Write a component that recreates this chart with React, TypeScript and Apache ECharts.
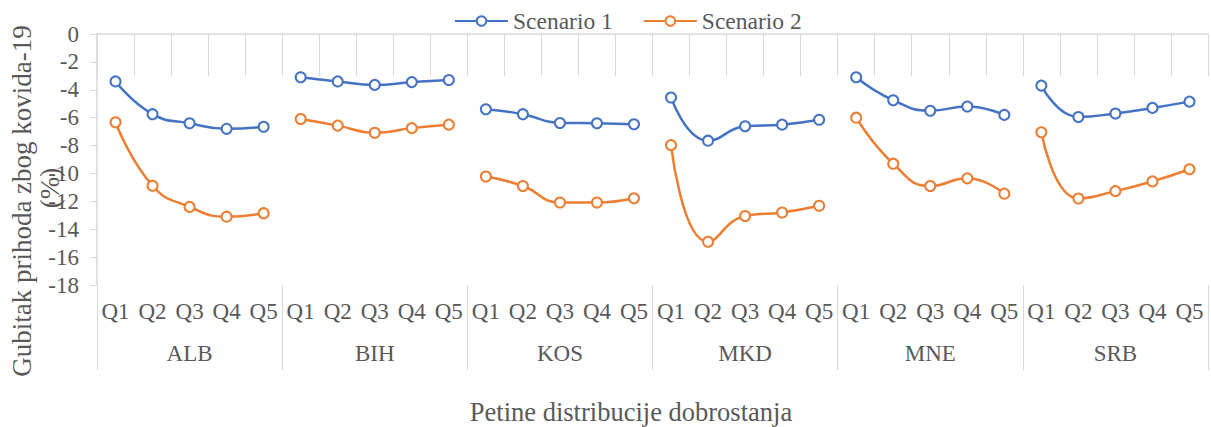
import React, { useEffect, useRef } from "react";
import * as echarts from "echarts";

const countries = ["ALB", "BIH", "KOS", "MKD", "MNE", "SRB"];
const quintiles = ["Q1", "Q2", "Q3", "Q4", "Q5"];
const seriesNames = ["Scenario 1", "Scenario 2"];

// values per country, Q1..Q5
const scenario1: number[][] = [
  [-3.4, -5.75, -6.4, -6.8, -6.65],
  [-3.1, -3.4, -3.65, -3.45, -3.3],
  [-5.4, -5.75, -6.38, -6.4, -6.47],
  [-4.55, -7.65, -6.62, -6.5, -6.15],
  [-3.1, -4.75, -5.5, -5.2, -5.8],
  [-3.7, -5.95, -5.7, -5.3, -4.85],
];
const scenario2: number[][] = [
  [-6.33, -10.88, -12.4, -13.1, -12.85],
  [-6.1, -6.57, -7.08, -6.75, -6.5],
  [-10.22, -10.9, -12.08, -12.08, -11.78],
  [-7.97, -14.9, -13.05, -12.8, -12.32],
  [-6.0, -9.3, -10.9, -10.35, -11.45],
  [-7.05, -11.8, -11.27, -10.57, -9.7],
];

const yTicks = { min: -18, max: 0, interval: 2 };
const colors = ["#4472C4", "#ED7D31"];
const FONT = "Liberation Serif";
const TXT = "#595959";
const GRID = "#D9D9D9";

const categories = countries.flatMap((c) => quintiles.map((q) => c + "|" + q));

export default function App() {
  const ref = useRef<HTMLDivElement>(null);
  useEffect(() => {
    if (!ref.current) return;
    const chart = echarts.init(ref.current, undefined, { renderer: "svg" });
    const series: any[] = [];
    [scenario1, scenario2].forEach((sc, si) => {
      sc.forEach((vals, ci) => {
        const data = categories.map((_, idx) =>
          Math.floor(idx / 5) === ci ? vals[idx % 5] : null
        );
        series.push({
          name: seriesNames[si],
          type: "line",
          xAxisIndex: 0,
          data,
          smooth: 0.5,
          connectNulls: false,
          symbol: "emptyCircle",
          symbolSize: 10,
          lineStyle: { color: colors[si], width: 2.5 },
          itemStyle: { color: colors[si], borderWidth: 2 },
          z: si === 0 ? 3 : 2,
        });
      });
    });
    chart.setOption({
      animation: false,
      textStyle: { fontFamily: FONT },
      grid: { left: 97, right: 3, top: 34, bottom: 142, containLabel: false },
      legend: {
        data: seriesNames,
        left: 449,
        top: 4,
        itemWidth: 53,
        itemHeight: 12,
        itemGap: 30,
        textStyle: { fontFamily: FONT, fontSize: 23.5, color: TXT },
      },
      xAxis: [
        {
          type: "category",
          data: categories,
          position: "bottom",
          boundaryGap: true,
          axisLine: { show: false },
          axisTick: { show: true, length: 42, interval: 0, lineStyle: { color: GRID } },
          axisLabel: {
            interval: 0,
            margin: 15,
            formatter: (v: string) => v.split("|")[1],
            fontFamily: FONT,
            fontSize: 23,
            color: TXT,
          },
          splitLine: { show: false },
        },
        {
          type: "category",
          data: countries,
          position: "bottom",
          boundaryGap: true,
          axisLine: { show: false },
          axisTick: { show: true, length: 85, interval: 0, lineStyle: { color: GRID } },
          axisLabel: { interval: 0, margin: 57, fontFamily: FONT, fontSize: 23, color: TXT },
          splitLine: { show: false },
        },
        {
          type: "category",
          data: categories,
          position: "top",
          boundaryGap: true,
          axisLine: { show: true, lineStyle: { color: GRID, width: 1.5 } },
          axisTick: { show: true, inside: true, length: 7, interval: 0, lineStyle: { color: GRID } },
          axisLabel: { show: false },
          splitLine: { show: false },
        },
      ],
      yAxis: {
        type: "value",
        min: yTicks.min,
        max: yTicks.max,
        interval: yTicks.interval,
        axisLine: { show: true, lineStyle: { color: GRID, width: 1.5 } },
        axisTick: { show: true, length: 7, lineStyle: { color: GRID } },
        axisLabel: { margin: 18, fontFamily: FONT, fontSize: 23, color: TXT },
        splitLine: { show: false },
      },
      graphic: [
        {
          type: "text",
          x: 631,
          y: 412,
          style: {
            text: "Petine distribucije dobrostanja",
            fontFamily: FONT,
            fontSize: 26.5,
            fill: TXT,
            align: "center",
            verticalAlign: "middle",
          },
        },
        {
          type: "text",
          x: 22,
          y: 201,
          rotation: Math.PI / 2,
          style: {
            text: "Gubitak prihoda zbog kovida-19",
            fontFamily: FONT,
            fontSize: 27,
            fill: TXT,
            align: "center",
            verticalAlign: "middle",
          },
        },
        {
          type: "text",
          x: 50,
          y: 188,
          rotation: Math.PI / 2,
          style: {
            text: "(%)",
            fontFamily: FONT,
            fontSize: 27,
            fill: TXT,
            align: "center",
            verticalAlign: "middle",
          },
        },
      ],
      series,
    });
    return () => chart.dispose();
  }, []);
  return (
    <div
      ref={ref}
      style={{ position: "fixed", left: 0, top: 0, width: 1211, height: 427, background: "#fff" }}
    />
  );
}
